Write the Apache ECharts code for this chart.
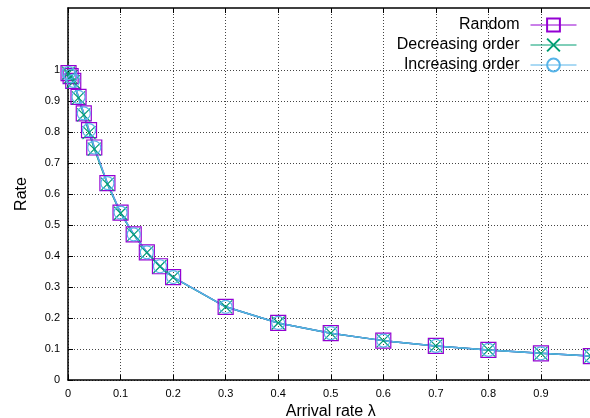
<!DOCTYPE html>
<html><head><meta charset="utf-8">
<script src="https://cdn.jsdelivr.net/npm/echarts@6/dist/echarts.min.js"></script>
<style>html,body{margin:0;padding:0;background:#fff}#c{width:590px;height:418px}</style>
</head><body><div id="c"></div>
<script>
const arrivalRates = [0.001, 0.005, 0.01, 0.02, 0.03, 0.04, 0.05, 0.075, 0.1, 0.125, 0.15, 0.175, 0.2, 0.3, 0.4, 0.5, 0.6, 0.7, 0.8, 0.9, 0.995];
const randomRate = [0.99, 0.98, 0.965, 0.913, 0.86, 0.806, 0.75, 0.635, 0.54, 0.47, 0.412, 0.367, 0.332, 0.236, 0.184, 0.151, 0.127, 0.11, 0.097, 0.086, 0.077];
const decreasingRate = [0.99, 0.978, 0.962, 0.91, 0.855, 0.798, 0.745, 0.632, 0.538, 0.469, 0.411, 0.366, 0.331, 0.236, 0.184, 0.151, 0.127, 0.11, 0.097, 0.086, 0.077];
const increasingRate = [0.99, 0.98, 0.965, 0.913, 0.86, 0.806, 0.75, 0.635, 0.54, 0.47, 0.412, 0.367, 0.332, 0.236, 0.184, 0.151, 0.127, 0.11, 0.097, 0.086, 0.077];
const seriesNames = ['Random', 'Decreasing order', 'Increasing order'];
const yTickValues = [0, 0.1, 0.2, 0.3, 0.4, 0.5, 0.6, 0.7, 0.8, 0.9, 1];

const pair = ys => arrivalRates.map((x, i) => [x, ys[i]]);
const font = 'Liberation Sans, Arial, sans-serif';
const gridColors = [];
for (let i = 0; i <= 12; i++) gridColors.push(i <= 10 ? '#444' : 'rgba(0,0,0,0)');

function mk(name, ys, color, symbol, size) {
  return {
    name, type: 'line', data: pair(ys), symbol, symbolSize: size,
    lineStyle: { color, width: 1.5 },
    itemStyle: { color: 'rgba(0,0,0,0)', borderColor: color, borderWidth: 1.2 },
    emphasis: { disabled: true }, animation: false
  };
}

const chart = echarts.init(document.getElementById('c'));
chart.setOption({
  animation: false,
  textStyle: { fontFamily: font },
  grid: { left: 68, top: 8, right: -3.5, bottom: 38, containLabel: false, outerBoundsMode: 'none' },
  legend: {
    right: 8, top: 12, orient: 'vertical', align: 'right',
    itemWidth: 46, itemHeight: 16, itemGap: 4,
    lineStyle: { width: 1 },
    textStyle: { fontSize: 16, color: '#000', fontFamily: font, padding: [0, 6, 0, 0] },
    data: seriesNames
  },
  xAxis: [{
    type: 'value', min: 0, max: 1, interval: 0.1,
    name: 'Arrival rate λ', nameLocation: 'middle', nameGap: 16,
    nameTextStyle: { fontSize: 16, color: '#000', fontFamily: font },
    axisLine: { lineStyle: { color: '#000', width: 1.5 } },
    axisTick: { inside: true, length: 5, lineStyle: { color: '#000' } },
    axisLabel: { fontSize: 11, color: '#000', margin: 8, fontFamily: font,
      formatter: v => v >= 0.999 ? '' : String(Math.round(v * 10) / 10) },
    splitLine: { show: true, lineStyle: { color: '#444', type: [1, 2], width: 1 } }
  }, {
    type: 'value', position: 'top', min: 0, max: 1, interval: 0.1,
    axisLine: { show: true, lineStyle: { color: '#000', width: 1.5 } },
    axisTick: { show: true, inside: true, length: 5, lineStyle: { color: '#000' } },
    axisLabel: { show: false }, splitLine: { show: false }
  }],
  yAxis: [{
    type: 'value', min: 0, max: 1.2, interval: 0.1,
    name: 'Rate', nameLocation: 'middle', nameGap: 38,
    nameTextStyle: { fontSize: 16, color: '#000', fontFamily: font },
    axisLine: { show: true, lineStyle: { color: '#000', width: 1.5 } },
    axisTick: { show: true, inside: true, length: 5, customValues: yTickValues, lineStyle: { color: '#000' } },
    axisLabel: { fontSize: 11, color: '#000', margin: 8, fontFamily: font, customValues: yTickValues,
      formatter: v => v > 1.0001 ? '' : String(Math.round(v * 10) / 10) },
    splitLine: { show: true, lineStyle: { color: gridColors, type: [1, 2], width: 1 } }
  }],
  series: [
    mk(seriesNames[0], randomRate, '#9400d3', 'rect', 15),
    mk(seriesNames[1], decreasingRate, '#009e73', 'path://M0,0L10,10M10,0L0,10', 13),
    mk(seriesNames[2], increasingRate, '#56b4e9', 'circle', 13)
  ]
});
</script></body></html>
